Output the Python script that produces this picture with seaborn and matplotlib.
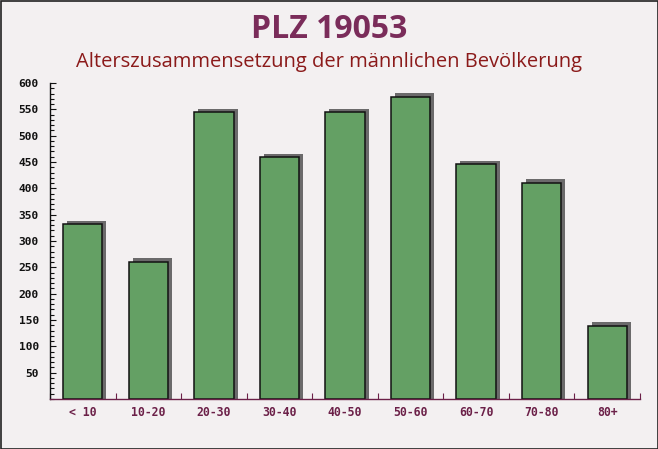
import matplotlib
matplotlib.use("Agg")
import matplotlib.pyplot as plt
import matplotlib.transforms as mtransforms
from matplotlib.ticker import MultipleLocator, FixedLocator
import seaborn as sns
import pandas as pd

categories = ["< 10", "10-20", "20-30", "30-40", "40-50", "50-60", "60-70", "70-80", "80+"]
values = [332, 261, 544, 459, 544, 574, 446, 411, 139]
ytick_values = [50, 100, 150, 200, 250, 300, 350, 400, 450, 500, 550, 600]

df = pd.DataFrame({"Alter": categories, "Anzahl": values})

sns.set_theme(style="white")
plt.rcParams["font.family"] = ["DejaVu Sans"]

W, H = 658, 449
fig = plt.figure(figsize=(W / 100, H / 100), dpi=100)
bg = "#f3f0f1"
fig.patch.set_facecolor(bg)

ax = fig.add_axes([50 / W, (H - 399) / H, 590 / W, (399 - 83) / H])
ax.set_facecolor("none")

# shadow bars (extruded behind the front bars)
sns.barplot(data=df, x="Alter", y="Anzahl", ax=ax, color="#5c5c5c", width=0.6,
            saturation=1, linewidth=0, zorder=2)
shadow_patches = list(ax.patches)
off = mtransforms.ScaledTranslation(4 / 100, 3.5 / 100, fig.dpi_scale_trans)
for p in shadow_patches:
    h = p.get_height()
    p.set_y(-20)
    p.set_height(h + 20)
    p.set_transform(ax.transData + off)
    p.set_alpha(0.9)
    p.set_clip_on(True)

# front bars
sns.barplot(data=df, x="Alter", y="Anzahl", ax=ax, color="#64a064", width=0.6,
            saturation=1, edgecolor="#111111", linewidth=1.1, zorder=3)

ax.set_xlim(-0.5, len(categories) - 0.5)
ax.set_ylim(0, 600)
ax.set_xlabel("")
ax.set_ylabel("")

for s in ["top", "right"]:
    ax.spines[s].set_visible(False)
ax.spines["left"].set_color("#111111")
ax.spines["left"].set_linewidth(1.0)
ax.spines["bottom"].set_color("#6b2048")
ax.spines["bottom"].set_linewidth(1.0)
ax.spines["bottom"].set_zorder(5)

ax.yaxis.set_major_locator(FixedLocator(ytick_values))
ax.yaxis.set_minor_locator(MultipleLocator(10))
ax.tick_params(axis="y", which="major", direction="in", length=4, width=0.8,
               color="#111111", pad=8, left=True)
ax.tick_params(axis="y", which="minor", direction="in", length=3, width=0.8,
               color="#111111", left=True)
for lab in ax.get_yticklabels():
    lab.set_fontfamily("DejaVu Sans Mono")
    lab.set_fontweight("bold")
    lab.set_fontsize(8.1)
    lab.set_color("#111111")

ax.xaxis.set_minor_locator(FixedLocator([i + 0.5 for i in range(-1, len(categories))]))
ax.tick_params(axis="x", which="major", length=0, pad=5)
ax.tick_params(axis="x", which="minor", direction="in", length=4, width=0.8,
               color="#6b2048", bottom=True)
ax.set_xticks(range(len(categories)))
ax.set_xticklabels(categories)
for lab in ax.get_xticklabels():
    lab.set_fontfamily("DejaVu Sans Mono")
    lab.set_fontweight("bold")
    lab.set_fontsize(8.3)
    lab.set_color("#6b2048")

fig.text(0.5, 1 - 29 / H, "PLZ 19053", ha="center", va="center",
         fontsize=23, fontweight="bold", color="#7a2c5a", family=["Open Sans", "DejaVu Sans"])
fig.text(0.5, 1 - 62 / H, "Alterszusammensetzung der männlichen Bevölkerung",
         ha="center", va="center", fontsize=14.5, color="#8b1a1a",
         family=["Open Sans", "DejaVu Sans"])

border = plt.Rectangle((0.5 / W, 0.5 / H), 1 - 1 / W, 1 - 1 / H, transform=fig.transFigure,
                       fill=False, edgecolor="#222222", linewidth=1.2)
fig.patches.append(border)

fig.savefig("out.png", dpi=100, facecolor=bg)
